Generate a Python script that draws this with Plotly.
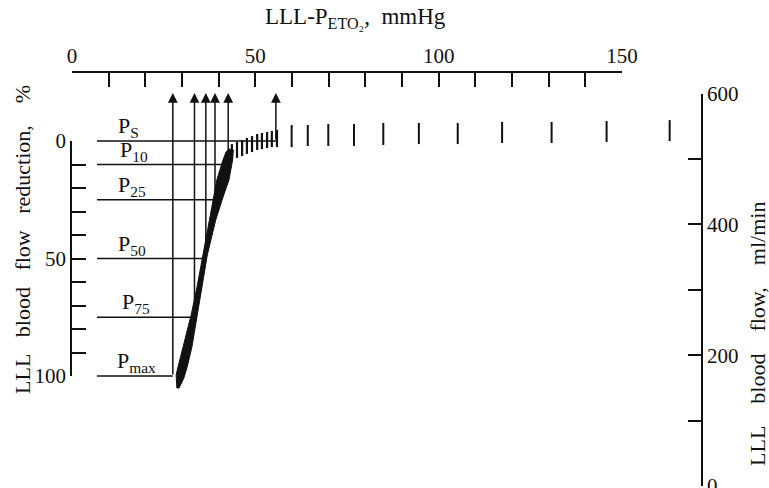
import plotly.graph_objects as go

# ---------------- data ----------------
# P-threshold levels (% blood-flow reduction) and their LLL-PETO2 (mmHg)
p_labels = ["P<sub>S</sub>", "P<sub>10</sub>", "P<sub>25</sub>", "P<sub>50</sub>", "P<sub>75</sub>", "P<sub>max</sub>"]
p_levels = [0, 10, 25, 50, 75, 100]
p_thresholds = [55.6, 42.6, 39.0, 36.5, 33.4, 27.5]
p_label_x = [15.5, 17.0, 16.4, 16.4, 17.5, 17.5]
line_start_x = 6.8          # left end of the horizontal reference lines (mmHg)
arrow_top_y = -20.4         # arrows reach up to this level (%)

# dense pulsatile flow trace (merged band): outline of the black band
band_x = [28.6, 28.4, 28.9, 30.3, 32.5, 34.1, 35.7, 37.4, 38.5, 39.5, 41.0, 42.0, 42.8,
          44.0, 43.8, 43.4, 42.8, 41.2, 39.2, 36.9, 35.5, 34.1, 32.7, 31.4, 30.5, 29.2, 28.6]
band_y = [105.1, 99.6, 96.2, 87.7, 74.0, 62.1, 48.5, 33.6, 24.3, 16.6, 8.9, 4.7, 3.4,
          3.8, 8.1, 11.1, 16.6, 23.8, 33.6, 48.5, 62.1, 74.0, 87.7, 96.2, 100.9, 105.1, 105.1]

# individual pulsations (hatched part) : x, top, bottom (%)
beat_x = [43.6, 45.0, 46.4, 47.7, 49.1, 50.5, 51.8, 53.2, 54.5, 55.9]
beat_top = [1.3, 0.4, -0.4, -1.3, -2.1, -3.0, -3.4, -3.8, -4.3, -4.7]
beat_bot = [8.1, 7.2, 6.4, 5.5, 4.7, 3.8, 3.4, 3.0, 2.6, 2.6]

# sparse pulsations at high PETO2
seg_x = [59.9, 64.3, 69.9, 76.9, 84.9, 94.6, 105.2, 117.3, 130.8, 145.8, 163.0]
seg_top = [-6.8, -6.8, -7.2, -7.2, -7.7, -7.7, -7.7, -8.1, -8.1, -8.5, -8.9]
seg_bot = [2.6, 2.1, 2.1, 2.1, 1.7, 1.3, 1.3, 0.85, 0.85, 0.4, 0.0]

# ---------------- layout geometry ----------------
W, H = 769, 488
FONT = "Liberation Serif"
BLACK = "#111111"
SP = "\u00a0"

# pixel anchors of the scales (layout only)
x0_px, x_per = 72.0, 550.0 / 150.0       # mmHg scale
y0_px, y_per = 141.0, 235.0 / 100.0      # % reduction scale
f0_px, f_per = 486.0, 392.5 / 600.0      # ml/min scale (0 at bottom)

def px_x(px):
    return px / W

def px_y(py):
    return 1 - py / H

fig = go.Figure()

# band (merged pulsations)
fig.add_trace(go.Scatter(x=band_x, y=band_y, mode="lines", fill="toself",
                         fillcolor=BLACK, line=dict(color=BLACK, width=1),
                         hoverinfo="skip", showlegend=False))

def segs(xs, tops, bots):
    X, Y = [], []
    for x, t, b in zip(xs, tops, bots):
        X += [x, x, None]
        Y += [t, b, None]
    return X, Y

bx, by = segs(beat_x, beat_top, beat_bot)
fig.add_trace(go.Scatter(x=bx, y=by, mode="lines", line=dict(color=BLACK, width=2.2),
                         hoverinfo="skip", showlegend=False))
sx, sy = segs(seg_x, seg_top, seg_bot)
fig.add_trace(go.Scatter(x=sx, y=sy, mode="lines", line=dict(color=BLACK, width=2),
                         hoverinfo="skip", showlegend=False))

# horizontal reference lines
hx, hy = [], []
for lev, thr in zip(p_levels, p_thresholds):
    hx += [line_start_x, thr, None]
    hy += [lev, lev, None]
fig.add_trace(go.Scatter(x=hx, y=hy, mode="lines", line=dict(color=BLACK, width=1.6),
                         hoverinfo="skip", showlegend=False))

annotations = []
# vertical arrows
for lev, thr in zip(p_levels, p_thresholds):
    annotations.append(dict(x=thr, y=arrow_top_y, ax=thr, ay=lev, xref="x", yref="y",
                            axref="x", ayref="y", text="", showarrow=True, arrowhead=2,
                            arrowsize=1.3, arrowwidth=1.5, arrowcolor=BLACK, standoff=0,
                            startstandoff=0))
# P labels
for lab, lev, lx in zip(p_labels, p_levels, p_label_x):
    annotations.append(dict(x=lx, y=lev, xref="x", yref="y", text=lab, showarrow=False,
                            yanchor="middle", xanchor="center", yshift=14,
                            font=dict(family=FONT, size=22, color=BLACK)))
# axis titles
annotations.append(dict(x=px_x(355), y=px_y(18), xref="paper", yref="paper",
                        xanchor="center", yanchor="middle",
                        text="LLL-P<sub>ETO₂</sub>," + SP * 2 + "mmHg", showarrow=False,
                        font=dict(family=FONT, size=23, color=BLACK)))
g3 = SP * 3
annotations.append(dict(x=px_x(22), y=px_y(240), xref="paper", yref="paper", textangle=-90,
                        xanchor="center", yanchor="middle",
                        text="LLL" + g3 + "blood" + g3 + "flow" + g3 + "reduction," + SP * 4 + "%",
                        showarrow=False, font=dict(family=FONT, size=22, color=BLACK)))
g4 = SP * 4
annotations.append(dict(x=px_x(757), y=px_y(334), xref="paper", yref="paper", textangle=-90,
                        xanchor="center", yanchor="middle",
                        text="LLL" + g4 + "blood" + g4 + "flow," + g4 + "ml/min",
                        showarrow=False, font=dict(family=FONT, size=22, color=BLACK)))

# dummy traces so the free axes are drawn
fig.add_trace(go.Scatter(x=[None], y=[None], xaxis="x2", yaxis="y", showlegend=False, hoverinfo="skip"))
fig.add_trace(go.Scatter(x=[None], y=[None], xaxis="x", yaxis="y2", showlegend=False, hoverinfo="skip"))
fig.add_trace(go.Scatter(x=[None], y=[None], xaxis="x", yaxis="y3", showlegend=False, hoverinfo="skip"))

tickfont = dict(family=FONT, size=21, color=BLACK)

fig.update_layout(
    width=W, height=H, margin=dict(l=0, r=0, t=0, b=0, pad=0), autosize=False,
    paper_bgcolor="white", plot_bgcolor="rgba(0,0,0,0)", showlegend=False,
    annotations=annotations,
    xaxis=dict(domain=[0, 1], range=[-x0_px / x_per, (W - x0_px) / x_per], visible=False,
               fixedrange=True, automargin=False),
    yaxis=dict(domain=[0, 1], range=[(H - y0_px) / y_per, -y0_px / y_per], visible=False,
               fixedrange=True, automargin=False),
    xaxis2=dict(domain=[px_x(x0_px), px_x(x0_px + 150 * x_per)], range=[0, 150], anchor="free",
                position=px_y(72), side="top", showline=True, linecolor=BLACK, linewidth=1.8,
                ticks="inside", ticklen=14, tickwidth=1.6, tickcolor=BLACK, tick0=0, dtick=50,
                minor=dict(dtick=10, ticks="inside", ticklen=14, tickwidth=1.6, tickcolor=BLACK),
                showgrid=False, zeroline=False, tickfont=tickfont, fixedrange=True, automargin=False,
                ticklabeloverflow="allow"),
    yaxis2=dict(domain=[px_y(y0_px + 100 * y_per), px_y(y0_px)], range=[100, 0], anchor="free",
                position=px_x(71), side="left", showline=True, linecolor=BLACK, linewidth=1.8,
                ticks="inside", ticklen=14, tickwidth=1.6, tickcolor=BLACK, tick0=0, dtick=50,
                minor=dict(dtick=10, ticks="inside", ticklen=14, tickwidth=1.6, tickcolor=BLACK),
                showgrid=False, zeroline=False, tickfont=tickfont, fixedrange=True, automargin=False,
                ticklabeloverflow="allow"),
    yaxis3=dict(domain=[px_y(f0_px), px_y(f0_px - 600 * f_per)], range=[0, 600], anchor="free",
                position=px_x(702), side="right", showline=True, linecolor=BLACK, linewidth=1.8,
                ticks="inside", ticklen=13, tickwidth=1.6, tickcolor=BLACK, tick0=0, dtick=200,
                minor=dict(dtick=100, ticks="inside", ticklen=13, tickwidth=1.6, tickcolor=BLACK),
                showgrid=False, zeroline=False, tickfont=tickfont, fixedrange=True, automargin=False,
                ticklabeloverflow="allow"),
)

fig.write_html("out.html", config={"displayModeBar": False},
               post_script="document.body.style.margin='0';document.body.style.padding='0';")
